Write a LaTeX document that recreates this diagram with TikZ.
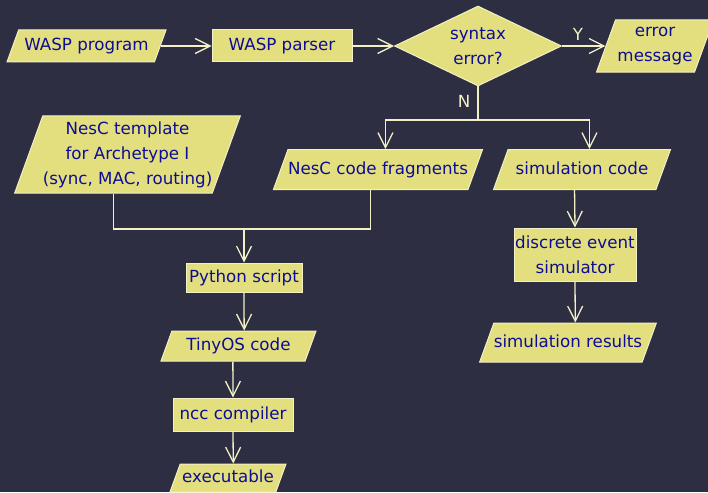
\documentclass[tikz,border=0pt]{standalone}
\usepackage{fontspec}
\setmainfont{DejaVu Sans}
\usepackage{tikz}
\usetikzlibrary{arrows.meta,positioning,calc,shapes.geometric}
\definecolor{bgc}{RGB}{46,46,66}
\definecolor{boxc}{RGB}{228,223,126}
\definecolor{inkc}{RGB}{12,12,150}
\definecolor{wirec}{RGB}{242,240,196}
\tikzset{
  box/.style={draw=wirec, fill=boxc, text=inkc, line width=1pt, inner sep=0pt, align=center},
  proc/.style={box, rectangle},
  io/.style={box, trapezium, trapezium left angle=70, trapezium right angle=110, trapezium stretches body},
  ioline/.style={io, text height=12.5pt, text depth=3.5pt},
  ask/.style={box, diamond, aspect=2},
  wire/.style={wirec, line width=1.3pt},
  flow/.style={wire, -{Straight Barb[length=15pt,width=15pt,line width=1.3pt]}},
  lbl/.style={text=wirec, inner sep=0pt},
}
\newcommand\topmid[1]{($(#1.top left corner)!0.5!(#1.top right corner)$)}
\newcommand\botmid[1]{($(#1.bottom left corner)!0.5!(#1.bottom right corner)$)}

\begin{document}
\begin{tikzpicture}[x=1pt, y=-1pt, font=\fontsize{16.7}{25}\selectfont]
  \fill[bgc] (0,0) rectangle (708,492);
  \useasboundingbox (0,0) rectangle (708,492);
  % top row
  \node[ioline, minimum width=159, inner ysep=8] (prog) at (86.5,46) {WASP program};
  \node[proc, minimum width=140, minimum height=32] (parser) at (282,46) {WASP parser};
  \node[ask, minimum width=167, minimum height=80] (check) at (478,46) {syntax\\error?};
  \node[io, minimum width=117, inner ysep=7.2] (err) at (655,46) {error\\message};
  % middle row
  \node[io, minimum width=225, inner ysep=5.5] (tmpl) at (127.5,154.5) {NesC template\\for Archetype I\\(sync, MAC, routing)};
  \node[ioline, minimum width=202, inner ysep=12] (frag) at (378,169.5) {NesC code fragments};
  \node[ioline, minimum width=177, inner ysep=12] (simc) at (582,169.5) {simulation code};
  % left column
  \node[proc, minimum width=116, minimum height=29] (py) at (244,277.5) {Python script};
  \node[ioline, minimum width=155, inner ysep=7] (tiny) at (238.5,346) {TinyOS code};
  \node[proc, minimum width=120, minimum height=33] (ncc) at (233,414.5) {ncc compiler};
  \node[ioline, minimum width=116, inner ysep=6] (exe) at (228,478) {executable};
  % right column
  \node[proc, minimum width=122, minimum height=53] (des) at (575,254.5) {discrete event\\simulator};
  \node[ioline, minimum width=176, inner ysep=11.5] (simr) at (568,342.5) {simulation results};
  \coordinate (split) at (478,120);
  \coordinate (merge) at (244,229);
  \draw[flow] (prog.right side) -- (parser.west);
  \draw[flow] (parser.east) -- (check.west);
  \draw[flow] (check.east) -- (err.left side);
  \node[lbl] (yes) at (578,34) {Y};
  \draw[wire] (check.south) -- (split);
  \node[lbl] (no) at (464,101) {N};
  \draw[flow] (split) -| \topmid{frag};
  \draw[flow] (split) -| \topmid{simc};
  \draw[wire] \botmid{tmpl} |- (merge) -| \botmid{frag};
  \draw[flow] (merge) -- (py.north);
  \draw[flow] (py.south) -- \topmid{tiny};
  \draw[flow] \botmid{tiny} -- (ncc.north);
  \draw[flow] (ncc.south) -- \topmid{exe};
  \draw[flow] \botmid{simc} -- (des.north);
  \draw[flow] (des.south) -- \topmid{simr};
\end{tikzpicture}
\end{document}
